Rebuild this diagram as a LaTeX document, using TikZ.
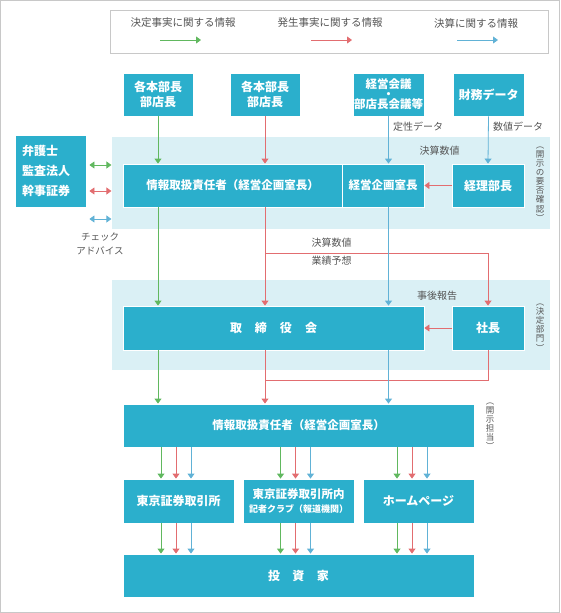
\documentclass[tikz,border=0pt]{standalone}
\usepackage{fontspec}
\setmainfont{Noto Sans CJK JP}
\usepackage{graphicx}
\definecolor{BoxBlue}{RGB}{43,175,204}
\definecolor{BandBlue}{RGB}{218,240,245}
\definecolor{FlowGreen}{RGB}{97,184,95}
\definecolor{FlowRed}{RGB}{226,109,112}
\definecolor{FlowBlue}{RGB}{97,178,214}
\definecolor{NoteGray}{RGB}{85,85,85}
\definecolor{FrameGray}{RGB}{200,200,200}
\usetikzlibrary{arrows.meta, positioning, calc}

\begin{document}
\begin{tikzpicture}[x=1pt, y=-1pt,
	box/.style={fill=BoxBlue, draw=white, line width=0.8pt, text=white, inner sep=0pt, align=center,
		font=\bfseries\fontsize{12}{15}\selectfont},
	note/.style={text=NoteGray, inner sep=0pt, align=center, font=\fontsize{10}{18}\selectfont},
	vnote/.style={text=NoteGray, inner sep=0pt, align=center, font={\fontsize{8.5}{9.1}\selectfont\lineskiplimit=-20pt}},
	flow/.style={line width=0.8pt, -{Triangle[width=7pt,length=5pt]}},
	both/.style={line width=0.8pt, {Triangle[width=7pt,length=5pt]}-{Triangle[width=7pt,length=5pt]}}]
	\useasboundingbox (0,0) rectangle (560,613);
	\draw[FrameGray, line width=1pt] (0.5,0.5) rectangle (559.5,612.5);
	\draw[FrameGray, line width=1pt] (110.5,10.5) rectangle (548.5,53);
	\fill[BandBlue] (112,137) rectangle (550,229);
	\fill[BandBlue] (112,280) rectangle (550,370);

	% legend
	\node[note, font=\fontsize{10.5}{13}\selectfont] (lg1) at (183,23) {決定事実に関する情報};
	\node[note, font=\fontsize{10.5}{13}\selectfont] (lg2) at (330,23) {発生事実に関する情報};
	\node[note, font=\fontsize{10.5}{13}\selectfont] (lg3) at (476,23) {決算に関する情報};
	\coordinate (lg1a) at (160,40); \coordinate (lg1b) at (201,40);
	\coordinate (lg2a) at (311,40); \coordinate (lg2b) at (352,40);
	\coordinate (lg3a) at (457,40); \coordinate (lg3b) at (498,40);
	\draw[flow, FlowGreen] (lg1a) -- (lg1b);
	\draw[flow, FlowRed] (lg2a) -- (lg2b);
	\draw[flow, FlowBlue] (lg3a) -- (lg3b);

	\node[box, minimum width=70pt, minimum height=43pt] (hon1) at (158,94.5) {各本部長\\部店長};
	\node[box, minimum width=70pt, minimum height=43pt] (hon2) at (265,94.5) {各本部長\\部店長};
	\node[box, minimum width=71pt, minimum height=43pt, font={\bfseries\fontsize{11.5}{10}\selectfont\lineskiplimit=-20pt}] (kaigi) at (388.5,94.5) {経営会議\\・\\部店長会議等};
	\node[box, minimum width=71pt, minimum height=43pt] (zaimu) at (488.5,94.5) {財務データ};

	\node[box, minimum width=71pt, minimum height=72pt, align=left, text width=57pt,
		font=\bfseries\fontsize{12}{20}\selectfont] (bengo) at (50.5,171) {弁護士\\監査法人\\幹事証券};
	\node[box, minimum width=219pt, minimum height=43pt, font=\bfseries\fontsize{11.5}{15}\selectfont] (joho1) at (232.5,185.5) {情報取扱責任者（経営企画室長）};
	\node[box, minimum width=82pt, minimum height=43pt, font=\bfseries\fontsize{11.5}{15}\selectfont] (kikaku) at (383,185.5) {経営企画室長};
	\node[box, minimum width=72pt, minimum height=43pt] (keiri) at (488,185.5) {経理部長};

	\node[box, minimum width=301pt, minimum height=44pt] (torishimari) at (273.5,328) {取\hspace{13pt}締\hspace{13pt}役\hspace{13pt}会};
	\node[box, minimum width=72pt, minimum height=44pt] (shacho) at (488,328) {社長};

	\node[box, minimum width=351pt, minimum height=43pt, font=\bfseries\fontsize{11.5}{15}\selectfont] (joho2) at (298.5,425.5) {情報取扱責任者（経営企画室長）};
	\node[box, minimum width=111pt, minimum height=44pt] (r1) at (178.5,501) {東京証券取引所};
	\node[box, minimum width=111pt, minimum height=44pt, font=\bfseries\fontsize{11.5}{14}\selectfont] (r2) at (298.5,501) {東京証券取引所内\\{\fontsize{9}{11}\selectfont 記者クラブ（報道機関）}};
	\node[box, minimum width=111pt, minimum height=44pt] (r3) at (418.5,501) {ホームページ};
	\node[box, minimum width=351pt, minimum height=43pt] (toshika) at (298.5,575.5) {投\hspace{12.5pt}資\hspace{12.5pt}家};

	\node[note] (teisei) at (393,127) [anchor=west] {定性データ};
	\node[note] (suchi) at (493,127) [anchor=west] {数値データ};
	\node[note] (kessan1) at (439.5,151) {決算数値};
	\node[note] (kessan2) at (331.5,252) {決算数値\\業績予想};
	\node[note] (jigo) at (437,296) {事後報告};
	\node[note, font=\fontsize{9.5}{14}\selectfont] (check) at (100,244) {チェック\\アドバイス};
	\node[vnote] (v1) at (540,184) {︵\\開\\示\\の\\要\\否\\確\\認\\︶};
	\node[vnote] (v2) at (540,327.5) {︵\\決\\定\\部\\門\\︶};
	\node[vnote] (v3) at (490,426) {︵\\開\\示\\担\\当\\︶};

	\foreach \yy/\cc in {165/FlowGreen, 191/FlowRed, 219/FlowBlue}
		\draw[both, \cc] ($(bengo.east |- 0,\yy)+(3,0)$) -- ++(22,0);

	\draw[flow, FlowGreen] (hon1.south) -- (hon1 |- joho1.north);
	\draw[flow, FlowRed] (hon2.south) -- (hon2 |- joho1.north);
	\draw[flow, FlowBlue] (kaigi.south) -- (kaigi |- kikaku.north);
	\draw[flow, FlowBlue] (zaimu.south) -- (keiri.north);
	\draw[flow, FlowRed] (keiri.west) -- (kikaku.east);

	\draw[flow, FlowGreen] (hon1 |- joho1.south) -- (hon1 |- torishimari.north);
	\draw[flow, FlowRed] (hon2 |- joho1.south) -- (hon2 |- torishimari.north);
	\draw[flow, FlowRed] (hon2 |- 0,253) -| (shacho.north);
	\draw[flow, FlowBlue] (kaigi |- kikaku.south) -- (kaigi |- torishimari.north);
	\draw[flow, FlowRed] (shacho.west) -- (torishimari.east);

	\draw[flow, FlowGreen] (hon1 |- torishimari.south) -- (hon1 |- joho2.north);
	\draw[flow, FlowRed] (hon2 |- torishimari.south) -- (hon2 |- joho2.north);
	\draw[line width=0.8pt, FlowRed] (shacho.south) |- (hon2 |- 0,380);
	\draw[flow, FlowBlue] (kaigi |- torishimari.south) -- (kaigi |- joho2.north);

	\foreach \bx/\xo in {r1/-17.5, r2/-18, r3/-21.5}
		\foreach \cc [count=\i from 0] in {FlowGreen, FlowRed, FlowBlue}{
			\coordinate (ta) at ([xshift={(\xo+15*\i)*1pt}]\bx.north);
			\coordinate (tb) at ([xshift={(\xo+15*\i)*1pt}]\bx.south);
			\draw[flow, \cc] (ta |- joho2.south) -- (ta);
			\draw[flow, \cc] (tb) -- (tb |- toshika.north);
		}
\end{tikzpicture}
\end{document}
